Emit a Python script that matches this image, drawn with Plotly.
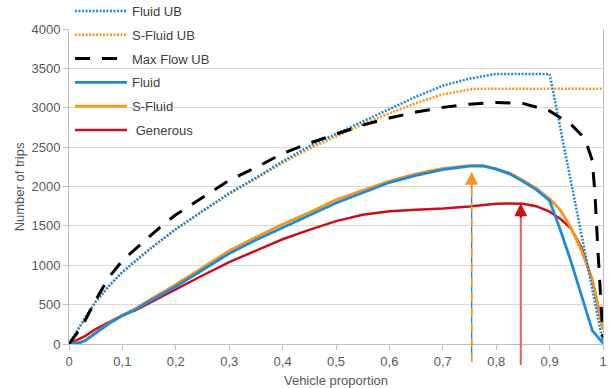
import plotly.graph_objects as go

# ---------------- data ----------------
x_fluid_ub = [0, 0.025, 0.05, 0.075, 0.1, 0.15, 0.2, 0.25, 0.3, 0.35, 0.4, 0.45, 0.5, 0.55,
              0.6, 0.65, 0.7, 0.75, 0.8, 0.9, 1.0]
y_fluid_ub = [0, 280, 540, 740, 915, 1200, 1460, 1690, 1915, 2110, 2320, 2510, 2670, 2830,
              2985, 3140, 3280, 3370, 3430, 3430, 10]

x_sfluid_ub = [0, 0.025, 0.05, 0.075, 0.1, 0.15, 0.2, 0.25, 0.3, 0.35, 0.4, 0.45, 0.5, 0.55,
               0.6, 0.65, 0.7, 0.757, 1.0]
y_sfluid_ub = [0, 275, 535, 735, 910, 1195, 1455, 1685, 1905, 2100, 2300, 2480, 2640, 2790,
               2930, 3060, 3170, 3240, 3240]

x_maxflow_ub = [0, 0.025, 0.05, 0.075, 0.1, 0.125, 0.15, 0.175, 0.2, 0.25, 0.3, 0.35, 0.4,
                0.45, 0.5, 0.55, 0.6, 0.65, 0.7, 0.75, 0.8, 0.85, 0.9, 0.94, 0.96, 0.97,
                0.98, 0.985, 0.99, 0.995, 1.0]
y_maxflow_ub = [0, 230, 560, 850, 1060, 1210, 1370, 1510, 1640, 1860, 2080, 2240, 2420,
                2550, 2670, 2780, 2870, 2945, 3005, 3045, 3068, 3055, 2960, 2790, 2650, 2530,
                2330, 1900, 1250, 650, 80]

x_solid = [0, 0.01, 0.02, 0.03, 0.05, 0.075, 0.1, 0.125, 0.15, 0.2, 0.25, 0.3, 0.35, 0.4,
           0.45, 0.5, 0.55, 0.6, 0.65, 0.7, 0.75, 0.775, 0.8, 0.825, 0.85, 0.875, 0.9,
           0.92, 0.94, 0.96, 0.98, 1.0]
y_fluid = [0, 5, 15, 40, 140, 260, 360, 440, 540, 730, 940, 1150, 1320, 1480,
           1630, 1790, 1920, 2050, 2140, 2215, 2260, 2262, 2220, 2160, 2065, 1960, 1820,
           1450, 1050, 600, 170, 10]
y_sfluid = [0, 8, 20, 45, 145, 265, 365, 450, 555, 755, 970, 1185, 1355, 1520,
            1670, 1830, 1950, 2070, 2160, 2230, 2265, 2265, 2225, 2170, 2080, 1980, 1845,
            1700, 1480, 1180, 820, 180]
y_generous = [0, 30, 65, 100, 190, 280, 365, 430, 520, 690, 870, 1040, 1190, 1330,
              1450, 1560, 1640, 1685, 1705, 1720, 1745, 1765, 1780, 1785, 1780, 1750, 1680,
              1590, 1470, 1220, 810, 200]

# peak markers (arrows)
arrow_sfluid_x, arrow_sfluid_tip = 0.754, 2188
arrow_generous_x, arrow_generous_tip = 0.846, 1787
arrow_bottom = [-229, -267]

x_tickvals = [0, 0.1, 0.2, 0.3, 0.4, 0.5, 0.6, 0.7, 0.8, 0.9, 1.0]
x_ticktext = ["0", "0,1", "0,2", "0,3", "0,4", "0,5", "0,6", "0,7", "0,8", "0,9", "1"]
y_tickvals = [0, 500, 1000, 1500, 2000, 2500, 3000, 3500, 4000]
y_ticktext = [str(v) for v in y_tickvals]

Y_MAX = 4000

# ---------------- colours ----------------
BLUE = "#1f8bd6"
ORANGE = "#f7961e"
RED = "#c8101c"
RED_LIGHT = "#e0606c"
BLACK = "#000000"
TXT = "#595959"
GRID = "#d9d9d9"
AXIS = "#bfbfbf"

fig = go.Figure()

def add(x, y, name, color, width, dash, rank):
    fig.add_trace(go.Scatter(
        x=x, y=y, name=name, mode="lines",
        line=dict(color=color, width=width, dash=dash),
        legendgroup=name, legendrank=rank, hoverinfo="skip"))

add(x_solid, y_generous, "\u00a0Generous", RED, 2.5, "solid", 6)
add(x_solid, y_sfluid, "S-Fluid", ORANGE, 2.8, "solid", 5)
add(x_solid, y_fluid, "Fluid", BLUE, 2.8, "solid", 4)
add(x_sfluid_ub, y_sfluid_ub, "S-Fluid UB", ORANGE, 2.5, "2px,1.5px", 2)
add(x_fluid_ub, y_fluid_ub, "Fluid UB", BLUE, 2.5, "2px,1.5px", 1)
add(x_maxflow_ub, y_maxflow_ub, "Max Flow UB", BLACK, 3, "15px,12px", 3)

# arrow stems (below axis too, so yref paper)
fig.add_shape(type="line", xref="x", yref="paper",
              x0=arrow_sfluid_x, x1=arrow_sfluid_x,
              y0=arrow_bottom[0] / Y_MAX, y1=(arrow_sfluid_tip - 150) / Y_MAX,
              line=dict(color=BLUE, width=1.3))
fig.add_shape(type="line", xref="x", yref="paper",
              x0=arrow_sfluid_x, x1=arrow_sfluid_x,
              y0=arrow_bottom[0] / Y_MAX, y1=(arrow_sfluid_tip - 150) / Y_MAX,
              line=dict(color=ORANGE, width=1.6, dash="9px,6px"))
fig.add_shape(type="line", xref="x", yref="paper",
              x0=arrow_generous_x, x1=arrow_generous_x,
              y0=arrow_bottom[1] / Y_MAX, y1=(arrow_generous_tip - 150) / Y_MAX,
              line=dict(color=RED_LIGHT, width=2))

for ax_x, tip, col in [(arrow_sfluid_x, arrow_sfluid_tip, ORANGE),
                       (arrow_generous_x, arrow_generous_tip, RED)]:
    fig.add_annotation(x=ax_x, y=tip, xref="x", yref="y", text="",
                       showarrow=True, arrowhead=2, arrowsize=1.3, arrowwidth=2,
                       arrowcolor=col, ax=0, ay=16)

# y-axis title
fig.add_annotation(text="Number of trips", xref="paper", yref="paper",
                   x=-0.092, y=0.5, xanchor="center", yanchor="middle",
                   textangle=-90, showarrow=False, font=dict(size=13, color=TXT))

fig.update_layout(
    width=610, height=388,
    margin=dict(l=69, r=7, t=29, b=44, autoexpand=False),
    paper_bgcolor="white", plot_bgcolor="white",
    font=dict(family="Liberation Sans, Arial, sans-serif", size=13, color=TXT),
    showlegend=True,
    legend=dict(xref="container", yref="paper", x=0.1148, y=1.105,
                xanchor="left", yanchor="top", traceorder="grouped",
                tracegroupgap=3.9, itemwidth=52, bgcolor="rgba(0,0,0,0)",
                font=dict(size=13, color="#404040")),
    xaxis=dict(range=[0, 1], tickvals=x_tickvals, ticktext=x_ticktext,
               showgrid=False, zeroline=False, showline=True, linecolor=AXIS,
               linewidth=1, ticks="outside", ticklen=5, tickcolor=AXIS,
               tickfont=dict(size=13, color=TXT),
               title=dict(text="Vehicle proportion", font=dict(size=13, color=TXT))),
    yaxis=dict(range=[0, Y_MAX], tickvals=y_tickvals, ticktext=y_ticktext,
               showgrid=True, gridcolor=GRID, gridwidth=1, zeroline=False,
               showline=True, linecolor=AXIS, linewidth=1, mirror=True,
               ticks="outside", ticklen=5, tickcolor=AXIS,
               tickfont=dict(size=13, color=TXT)),
)

fig.write_html("out.html", config={"displayModeBar": False},
               post_script="document.body.style.margin='0';")
